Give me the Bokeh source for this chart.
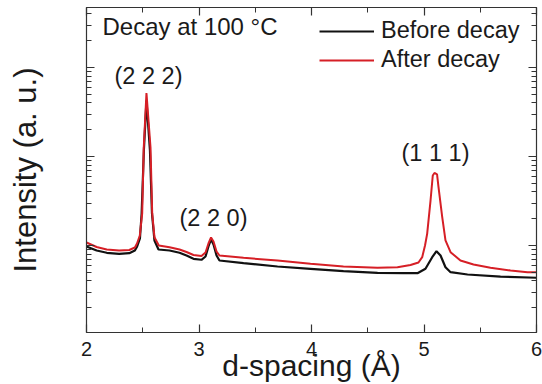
from bokeh.plotting import figure
from bokeh.models import Label, Legend, LegendItem, LinearAxis, LogAxis, FixedTicker, Range1d
from bokeh.embed import file_html
from bokeh.resources import INLINE

# ---- data (d-spacing in Å, intensity in a.u., log scale) ----
before_d = [2.00, 2.09, 2.18, 2.29, 2.38, 2.43, 2.45, 2.475, 2.49, 2.51, 2.533,
            2.564, 2.582, 2.604, 2.64, 2.738, 2.827, 2.889, 2.951, 3.022, 3.058,
            3.084, 3.107, 3.129, 3.156, 3.182, 3.396, 3.698, 3.991, 4.284, 4.587,
            4.818, 4.942, 5.013, 5.073, 5.111, 5.147, 5.191, 5.236, 5.387, 5.68, 6.0]
before_i = [9.75, 8.79, 8.28, 8.07, 8.19, 8.79, 9.75, 12.0, 22.9, 117, 426,
            117, 22.9, 11.4, 9.02, 8.79, 8.28, 7.72, 7.09, 6.91, 7.52,
            9.75, 11.68, 10.26, 7.72, 6.78, 6.33, 5.81, 5.47, 5.14, 4.93,
            4.88, 4.88, 5.47, 7.39, 8.63, 7.72, 5.70, 5.01, 4.72, 4.48, 4.34]

after_d = [2.00, 2.09, 2.18, 2.29, 2.38, 2.43, 2.449, 2.474, 2.495, 2.509, 2.533,
           2.569, 2.584, 2.604, 2.643, 2.738, 2.827, 2.889, 2.951, 3.022, 3.058,
           3.084, 3.107, 3.129, 3.156, 3.182, 3.396, 3.698, 3.991, 4.284, 4.587,
           4.764, 4.88, 4.951, 4.984, 5.009, 5.028, 5.058, 5.078, 5.093, 5.116,
           5.129, 5.162, 5.191, 5.236, 5.324, 5.44, 5.591, 5.769, 5.92, 6.0]
after_i = [10.81, 9.62, 9.02, 8.79, 8.90, 9.49, 10.53, 12.95, 22.9, 126, 517,
           126, 22.9, 12.4, 10.0, 9.57, 9.02, 8.45, 7.82, 7.62, 8.35,
           10.53, 12.3, 11.09, 8.56, 7.72, 7.27, 6.78, 6.23, 5.81, 5.62,
           5.70, 6.04, 6.44, 7.39, 10.0, 13.53, 32.0, 61.2, 65.3, 62.8,
           45.2, 20.8, 11.4, 8.41, 6.78, 6.12, 5.62, 5.24, 5.01, 5.01]

series_names = ["Before decay", "After decay"]
peak_labels = ["(2 2 2)", "(2 2 0)", "(1 1 1)"]
x_major_ticks = [2, 3, 4, 5, 6]
x_minor_ticks = [2.5, 3.5, 4.5, 5.5]
y_major_ticks = [1, 10, 100, 1000]
y_minor_ticks = [m * 10 ** e for e in range(0, 4) for m in range(2, 10)]

FONT = "Liberation Sans"
TXT = "#1a1a1a"
AX = "#333333"
RED = "#d61f26"
BLK = "#111111"

p = figure(width=542, height=384, x_range=Range1d(2, 6), y_range=Range1d(1.053, 4720),
           y_axis_type="log", output_backend="svg", toolbar_location=None,
           min_border_left=86, min_border_right=6, min_border_top=7, min_border_bottom=52)
p.grid.visible = False
p.outline_line_color = AX
p.background_fill_color = "white"
p.border_fill_color = "white"

bottom_ax = p.below[0]
left_ax = p.left[0]
top_ax = LinearAxis()
right_ax = LogAxis()
p.add_layout(top_ax, "above")
p.add_layout(right_ax, "right")


def style(ax, major, minor, labels):
    ax.ticker = FixedTicker(ticks=major, minor_ticks=minor)
    ax.major_tick_in = 8
    ax.major_tick_out = 0
    ax.minor_tick_in = 5
    ax.minor_tick_out = 0
    ax.axis_line_color = AX
    ax.major_tick_line_color = AX
    ax.minor_tick_line_color = AX
    ax.axis_line_width = 1.2
    ax.major_tick_line_width = 1.2
    ax.minor_tick_line_width = 1.0
    ax.major_label_text_font = FONT
    ax.major_label_text_font_size = "20px"
    ax.major_label_text_color = TXT
    ax.axis_label_text_font = FONT
    ax.axis_label_text_font_style = "normal"
    ax.axis_label_text_color = TXT
    if labels:
        ax.major_label_standoff = 9
    else:
        ax.major_label_overrides = {t: "" for t in major}
        ax.major_label_standoff = 0


style(bottom_ax, x_major_ticks, x_minor_ticks, True)
style(top_ax, x_major_ticks, x_minor_ticks, False)
style(left_ax, y_major_ticks, y_minor_ticks, False)
style(right_ax, y_major_ticks, y_minor_ticks, False)

bottom_ax.axis_label = "d-spacing (Å)"
bottom_ax.axis_label_text_font_size = "30px"
bottom_ax.axis_label_standoff = -10
left_ax.axis_label = "Intensity (a. u.)"
left_ax.axis_label_text_font_size = "31px"
left_ax.axis_label_standoff = 44

r1 = p.line(before_d, before_i, line_color=BLK, line_width=2.2)
r2 = p.line(after_d, after_i, line_color=RED, line_width=2.0)

legend = Legend(items=[LegendItem(label=series_names[0], renderers=[r1]),
                       LegendItem(label=series_names[1], renderers=[r2])],
                location=(233, 259), label_text_font=FONT, label_text_font_size="23.5px",
                label_text_color=TXT, glyph_width=55, glyph_height=22, label_standoff=7,
                spacing=2, padding=0, margin=0, border_line_alpha=0,
                background_fill_alpha=0)
p.add_layout(legend)


def lab(text, x, y, size, align="center"):
    p.add_layout(Label(x=x, y=y, x_units="screen", y_units="screen", text=text,
                       text_align=align, text_baseline="alphabetic",
                       text_font=FONT, text_font_size=size, text_color=TXT))


lab(peak_labels[0], 62, 257, "23.5px")
lab(peak_labels[1], 127, 115, "23.5px")
lab(peak_labels[2], 349, 180, "23.5px")
lab("Decay at 100 °C", 16, 306, "24px", align="left")

open("out.html", "w").write(file_html(p, INLINE))
